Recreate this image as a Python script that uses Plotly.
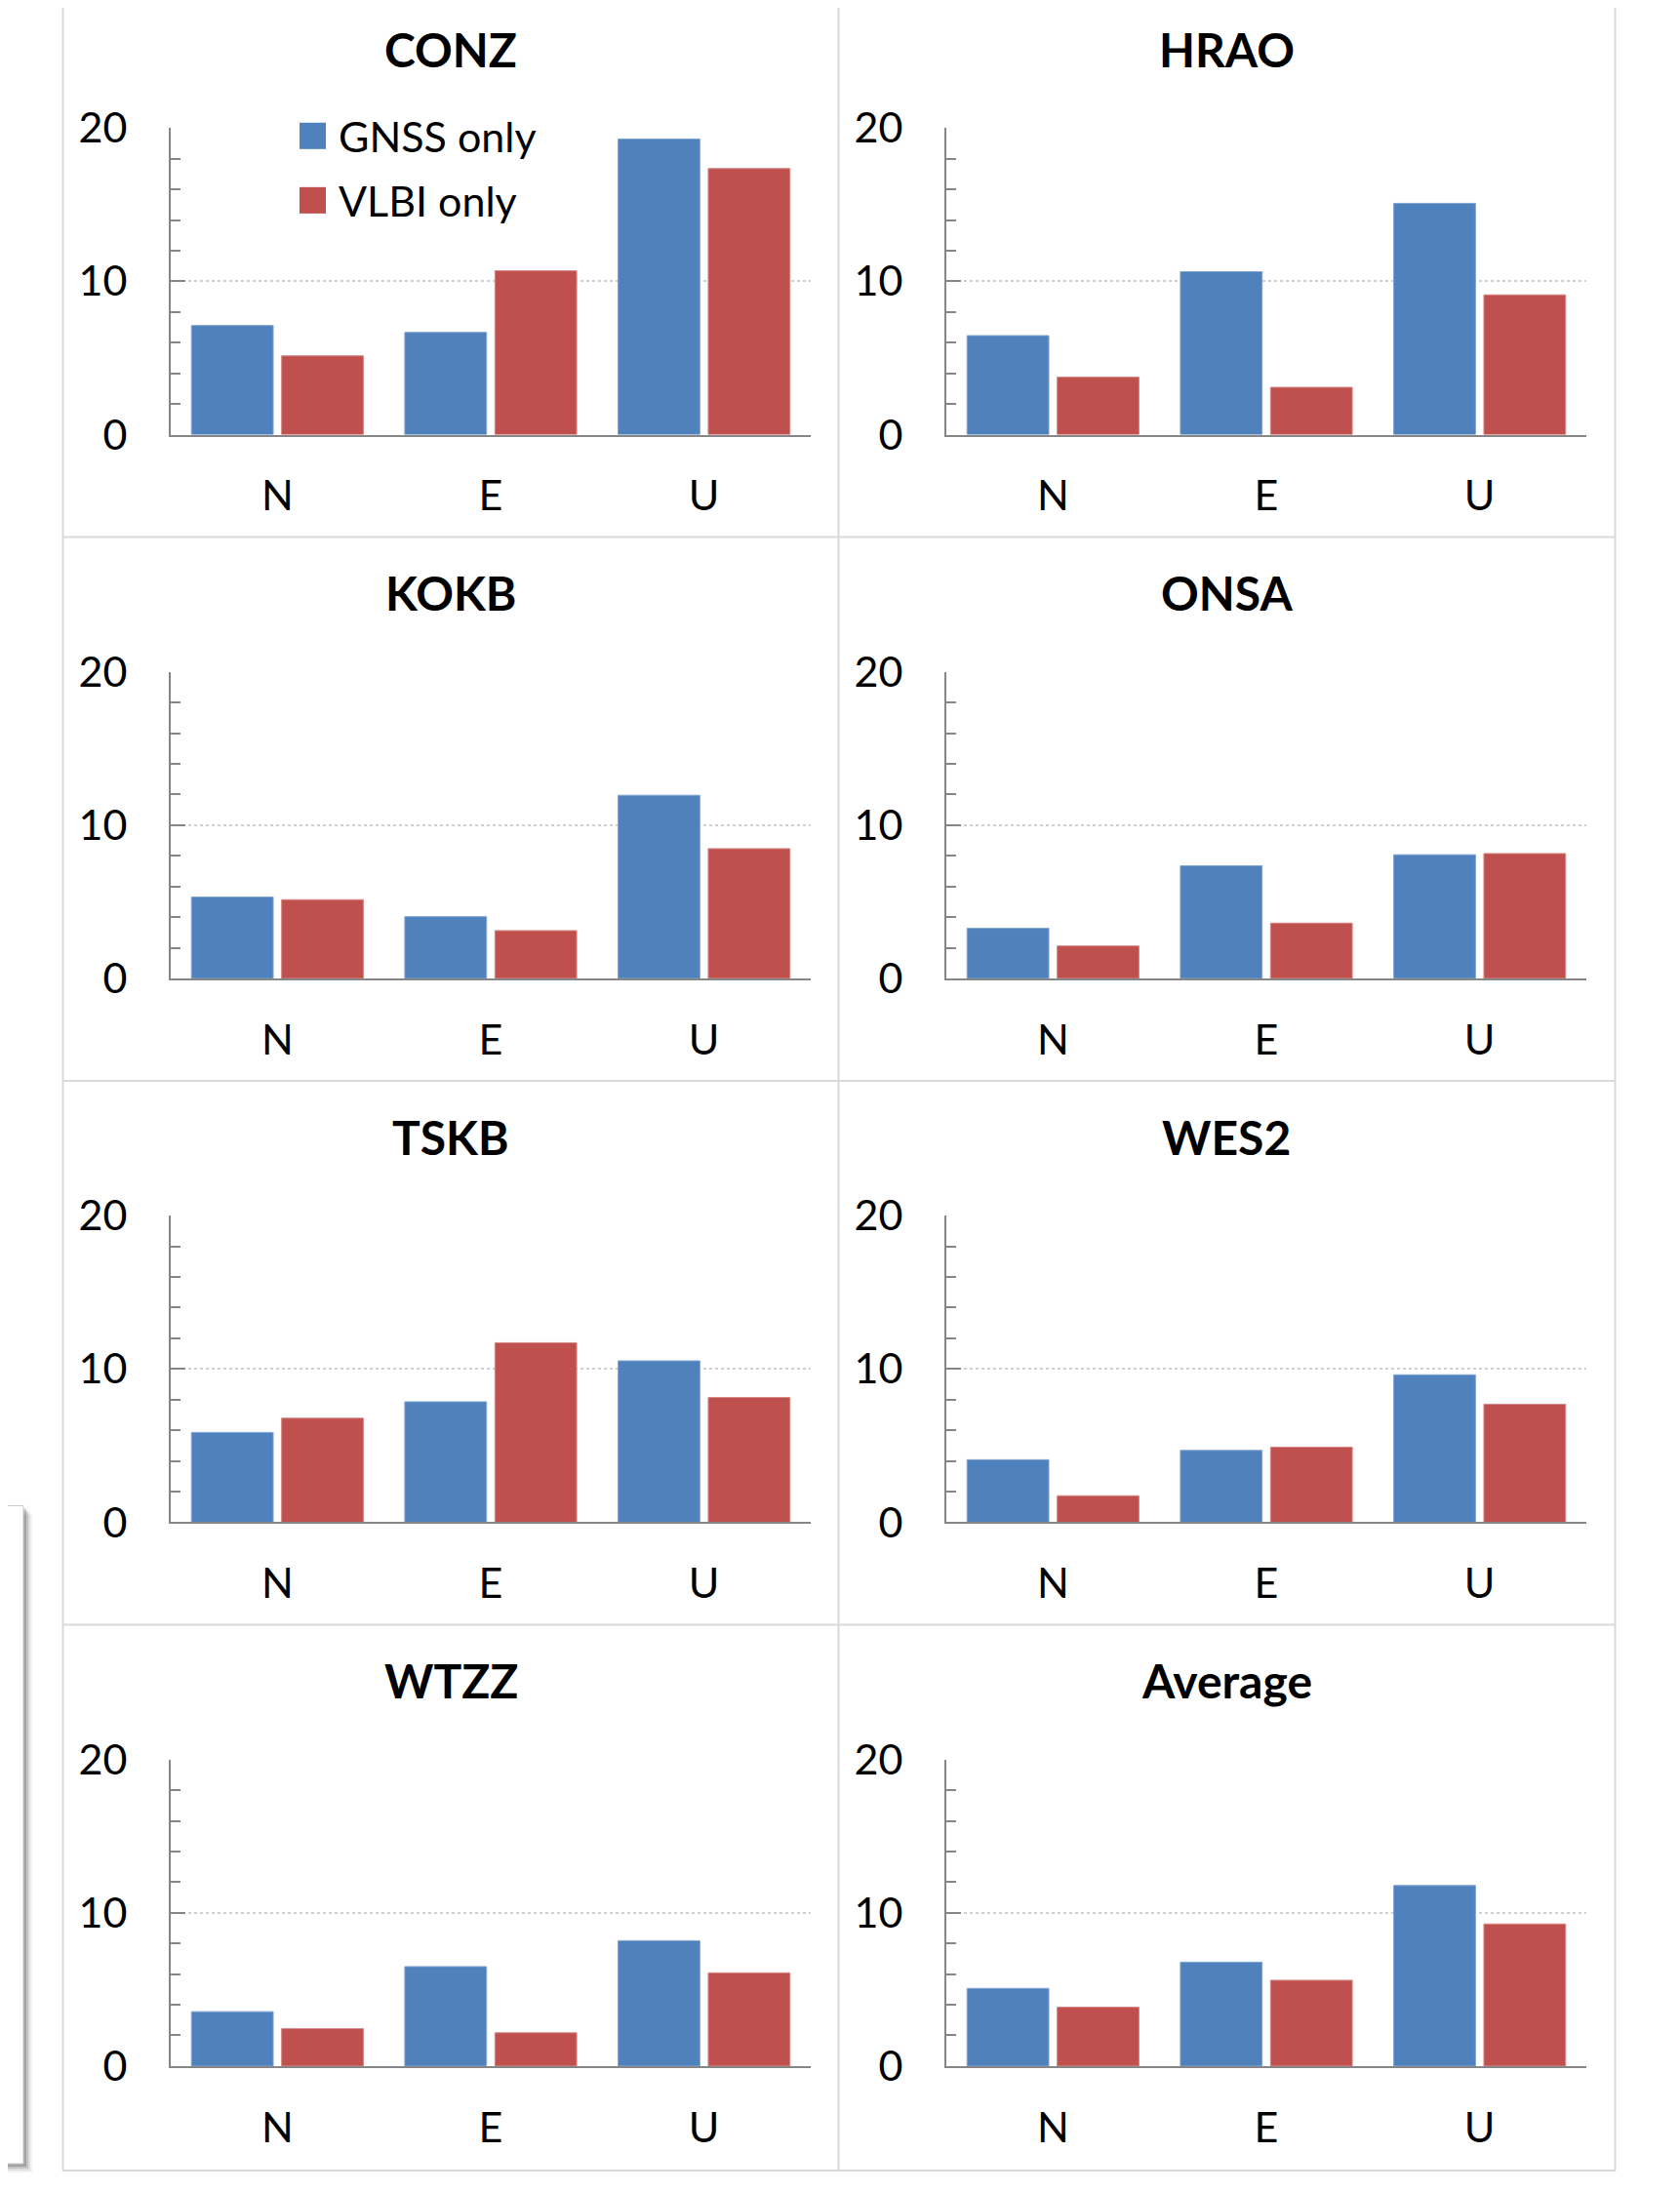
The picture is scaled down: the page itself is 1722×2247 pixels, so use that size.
import plotly.graph_objects as go

# ---------------- data ----------------
components = ["N", "E", "U"]
stations = ["CONZ", "HRAO", "KOKB", "ONSA", "TSKB", "WES2", "WTZZ", "Average"]
series_names = ["GNSS only", "VLBI only"]

conz_gnss = [7.12, 6.67, 19.29]
conz_vlbi = [5.14, 10.69, 17.36]
hrao_gnss = [6.46, 10.63, 15.09]
hrao_vlbi = [3.75, 3.09, 9.12]
kokb_gnss = [5.31, 4.03, 11.95]
kokb_vlbi = [5.14, 3.12, 8.47]
onsa_gnss = [3.27, 7.35, 8.07]
onsa_vlbi = [2.12, 3.61, 8.15]
tskb_gnss = [5.86, 7.86, 10.53]
tskb_vlbi = [6.79, 11.71, 8.14]
wes2_gnss = [4.08, 4.69, 9.62]
wes2_vlbi = [1.73, 4.90, 7.70]
wtzz_gnss = [3.55, 6.49, 8.18]
wtzz_vlbi = [2.44, 2.17, 6.08]
avg_gnss = [5.07, 6.78, 11.78]
avg_vlbi = [3.84, 5.60, 9.27]

y_ticks = [0, 10, 20]

gnss_by_station = [conz_gnss, hrao_gnss, kokb_gnss, onsa_gnss,
                   tskb_gnss, wes2_gnss, wtzz_gnss, avg_gnss]
vlbi_by_station = [conz_vlbi, hrao_vlbi, kokb_vlbi, onsa_vlbi,
                   tskb_vlbi, wes2_vlbi, wtzz_vlbi, avg_vlbi]

# ---------------- styling ----------------
W, H = 1722, 2247
BLUE = "#4F81BD"
RED = "#C0504D"
AXIS = "#868686"
GRID = "#cfcfcf"
BORDER = "#d9d9d9"
FONT = "Lato"
FS = 43

# page offset compensation (measured from renders)
OFF_X = 8.0
OFF_Y = 34.8
SC_Y = 0.9765


def X(x):
    """reference pixel x -> paper fraction"""
    return (x - OFF_X) / W


def Y(y):
    """reference pixel y -> paper fraction"""
    return 1 - ((y - OFF_Y) / SC_Y) / H


col_x0 = [175, 970]
plot_w = 656
row_top = [131, 688, 1245, 1802]
plot_h = 314
pitch_y = 557

fig = go.Figure()
layout = dict(
    width=W, height=H,
    margin=dict(l=0, r=0, t=0, b=0),
    paper_bgcolor="white", plot_bgcolor="white",
    barmode="group", bargap=0.155, bargroupgap=0.093,
    showlegend=False,
    font=dict(family=FONT, size=FS, color="#000000"),
)

annotations = []
shapes = []

for i, st in enumerate(stations):
    r, c = divmod(i, 2)
    k = "" if i == 0 else str(i + 1)
    xa, ya = "x" + k, "y" + k
    x0 = col_x0[c]
    y0 = row_top[r]
    layout["xaxis" + k] = dict(
        domain=[X(x0), X(x0 + plot_w)], anchor=ya,
        type="category", categoryorder="array", categoryarray=components,
        showline=True, linecolor=AXIS, linewidth=2,
        ticks="", showgrid=False, zeroline=False,
        tickfont=dict(family=FONT, size=FS, color="#000000"),
        ticklabelstandoff=24,
    )
    layout["yaxis" + k] = dict(
        domain=[Y(y0 + plot_h), Y(y0)], anchor=xa,
        range=[0, 20], tickvals=y_ticks,
        showline=True, linecolor=AXIS, linewidth=2,
        ticks="inside", ticklen=15, tickwidth=2, tickcolor=AXIS,
        minor=dict(dtick=2, ticks="inside", ticklen=10, tickwidth=1.5,
                   tickcolor=AXIS, showgrid=False),
        showgrid=True, gridcolor=GRID, gridwidth=1.5, griddash="dot",
        zeroline=False,
        tickfont=dict(family=FONT, size=FS, color="#000000"),
        ticklabelstandoff=34,
    )
    fig.add_trace(go.Bar(x=components, y=gnss_by_station[i], name=series_names[0],
                         marker=dict(color=BLUE, line=dict(color="#7fa3d1", width=1)),
                         xaxis=xa, yaxis=ya, showlegend=False))
    fig.add_trace(go.Bar(x=components, y=vlbi_by_station[i], name=series_names[1],
                         marker=dict(color=RED, line=dict(color="#d48784", width=1)),
                         xaxis=xa, yaxis=ya, showlegend=False))
    # panel title
    annotations.append(dict(
        text=st, x=X(462 + c * 795), y=Y(50 + r * pitch_y),
        xref="paper", yref="paper", xanchor="center", yanchor="middle",
        showarrow=False, font=dict(family=FONT, size=48, color="#000000", weight=700)))

# panel borders
for xv in [64.5, 859.5, 1655.5]:
    shapes.append(dict(type="line", xref="paper", yref="paper",
                       x0=X(xv), x1=X(xv), y0=Y(-5), y1=Y(2223),
                       line=dict(color=BORDER, width=2), layer="below"))
for yv in [550, 1107, 1664, 2223]:
    shapes.append(dict(type="line", xref="paper", yref="paper",
                       x0=X(64.5), x1=X(1655.5), y0=Y(yv), y1=Y(yv),
                       line=dict(color=BORDER, width=2), layer="below"))

# legend (inside CONZ panel)
for (yc, col, name) in [(139, BLUE, series_names[0]), (205, RED, series_names[1])]:
    shapes.append(dict(type="rect", xref="paper", yref="paper",
                       x0=X(307), x1=X(334), y0=Y(yc - 13.5), y1=Y(yc + 13.5),
                       fillcolor=col, line=dict(width=0)))
    annotations.append(dict(text=name, x=X(345), y=Y(yc), xref="paper", yref="paper",
                            xanchor="left", yanchor="middle", showarrow=False,
                            font=dict(family=FONT, size=FS, color="#000000")))

# partial text box at the left edge
for off, alpha in [(9, 0.05), (7, 0.08), (5, 0.12), (3, 0.16)]:
    shapes.append(dict(type="rect", xref="paper", yref="paper",
                       x0=X(-20), x1=X(24 + off), y0=Y(1542 + off), y1=Y(2216 + off),
                       fillcolor="rgba(0,0,0,%s)" % alpha, line=dict(width=0)))
shapes.append(dict(type="rect", xref="paper", yref="paper",
                   x0=X(-20), x1=X(24), y0=Y(1542), y1=Y(2216),
                   fillcolor="white", line=dict(color="#c8c8c8", width=1)))

layout["annotations"] = annotations
layout["shapes"] = shapes
fig.update_layout(**layout)

fig.write_html("out.html")
